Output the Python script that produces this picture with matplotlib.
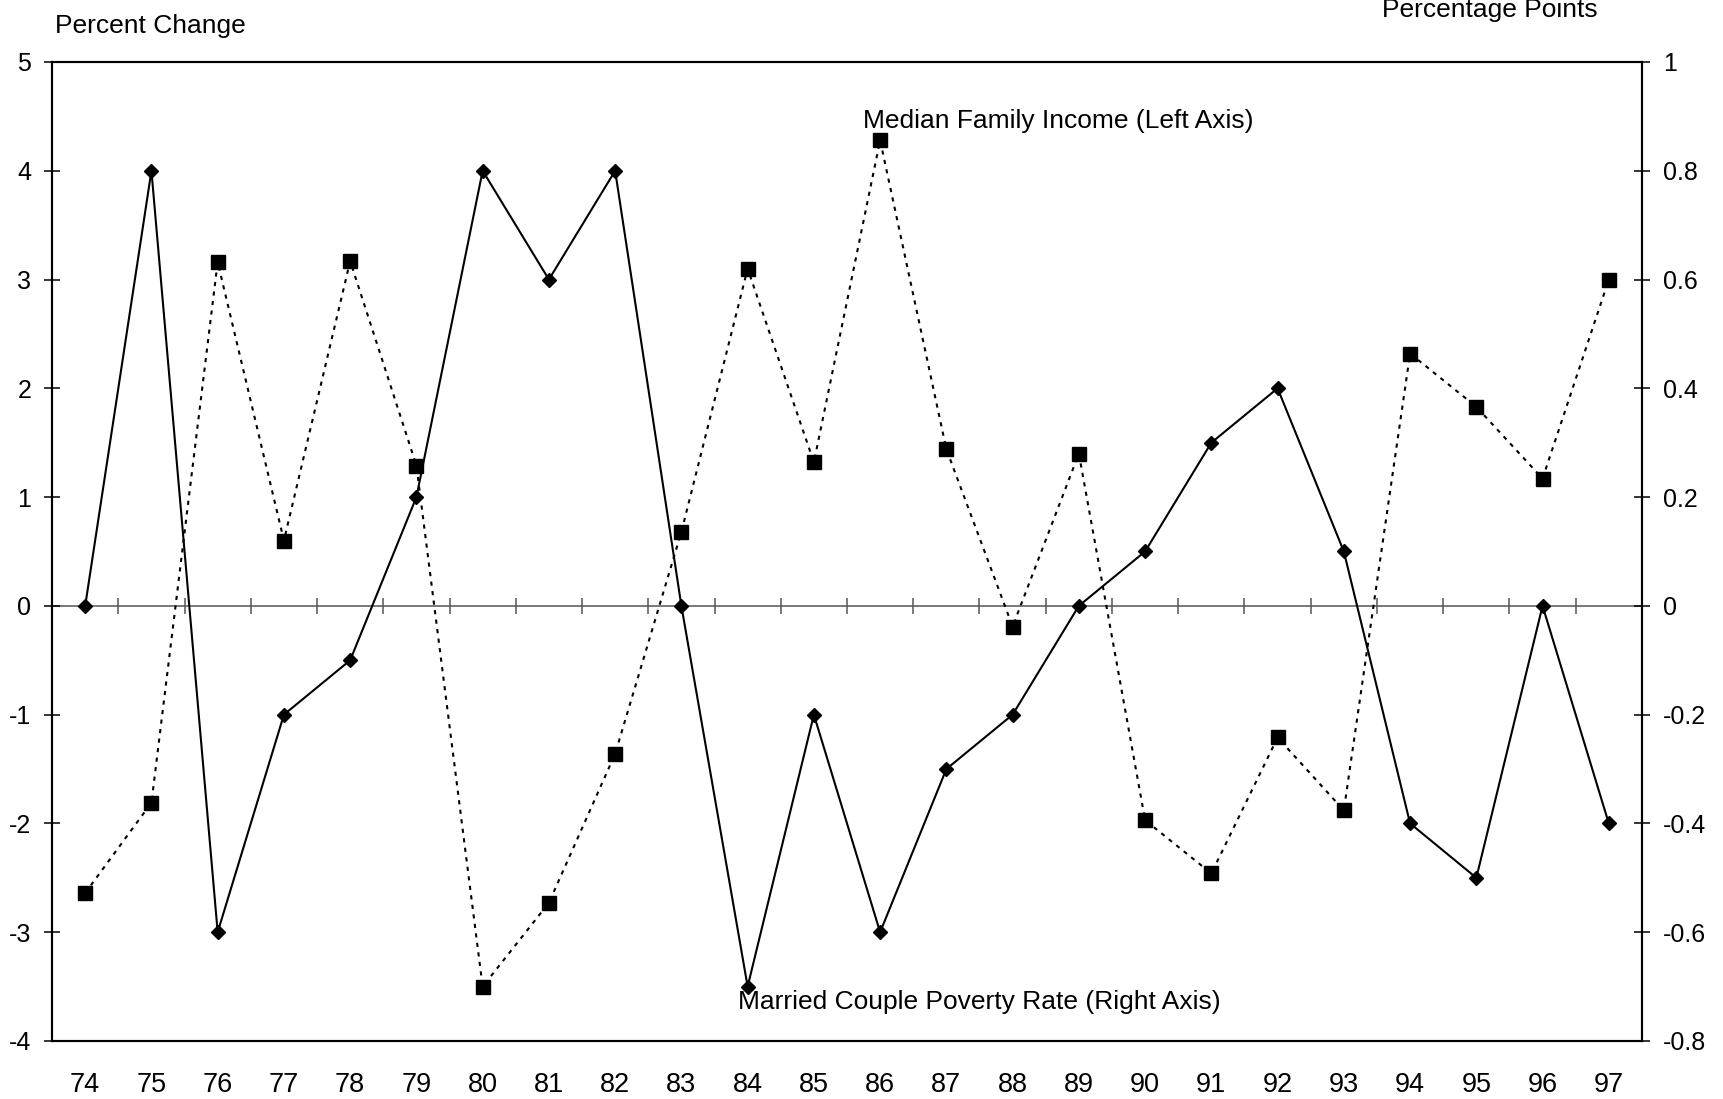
import matplotlib
matplotlib.use("Agg")
import matplotlib.pyplot as plt
from matplotlib.ticker import FuncFormatter
import numpy as np

plt.rcParams["font.family"] = ["Liberation Sans", "DejaVu Sans"]
plt.rcParams["axes.unicode_minus"] = False

# ---- data ----
years = ["74", "75", "76", "77", "78", "79", "80", "81", "82", "83", "84", "85",
         "86", "87", "88", "89", "90", "91", "92", "93", "94", "95", "96", "97"]

# median family income, percent change (left axis)
income_chg = [-2.64, -1.81, 3.16, 0.60, 3.17, 1.29, -3.50, -2.73, -1.36, 0.68, 3.10, 1.32,
              4.28, 1.44, -0.19, 1.40, -1.97, -2.46, -1.21, -1.88, 2.32, 1.83, 1.17, 3.00]

# married couple poverty rate, change in percentage points (right axis)
poverty_chg = [0.0, 0.8, -0.6, -0.2, -0.1, 0.2, 0.8, 0.6, 0.8, 0.0, -0.7, -0.2,
               -0.6, -0.3, -0.2, 0.0, 0.1, 0.3, 0.4, 0.1, -0.4, -0.5, 0.0, -0.4]

left_ticks = [5, 4, 3, 2, 1, 0, -1, -2, -3, -4]
right_ticks = [1, 0.8, 0.6, 0.4, 0.2, 0, -0.2, -0.4, -0.6, -0.8]

x = np.arange(len(years))

fig = plt.figure(figsize=(17.24, 10.99), dpi=100)
ax = fig.add_axes([0.0302, 0.0528, 0.9524 - 0.0302, 0.9436 - 0.0528])
ax2 = ax.twinx()

ax.set_xlim(-0.5, len(years) - 0.5)
ax.set_ylim(-4, 5)
ax2.set_ylim(-0.8, 1)

# zero line with category separators
ax.axhline(0, color="#555555", lw=1.1, zorder=1)
ax.plot(x[1:] - 0.5, np.zeros(len(x) - 1), ls="none", marker="|",
        ms=11.5, mew=1.1, color="#555555", zorder=1)

ax.plot(x, income_chg, color="black", lw=1.5, ls=(0, (2, 2.6)),
        marker="s", ms=10.5, mfc="black", mec="black", zorder=3)
ax2.plot(x, poverty_chg, color="black", lw=1.5, ls="-",
         marker="D", ms=7.6, mfc="black", mec="black", zorder=3)

ax.text(11.74, 4.39, "Median Family Income (Left Axis)", fontsize=19, ha="left", va="baseline")
ax.text(9.86, -3.71, "Married Couple Poverty Rate (Right Axis)", fontsize=19, ha="left", va="baseline")

fig.text(0.0319, 0.970, "Percent Change", fontsize=19, ha="left", va="baseline")
fig.text(0.8016, 0.9845, "Percentage Points", fontsize=19, ha="left", va="baseline")

# axes styling
for a in (ax, ax2):
    for s in a.spines.values():
        s.set_linewidth(1.5)
        s.set_color("black")

ax.set_yticks(left_ticks)
ax.tick_params(axis="y", direction="inout", length=12, width=1.1, labelsize=18, pad=9)
ax.set_xticks(x)
ax.set_xticklabels(years)
ax.tick_params(axis="x", length=0, labelsize=19.5, pad=22)

ax2.set_yticks(right_ticks)
ax2.yaxis.set_major_formatter(FuncFormatter(lambda v, p: f"{v:g}"))
ax2.tick_params(axis="y", direction="inout", length=12, width=1.1, labelsize=18, pad=9)

fig.savefig("out.png", dpi=100)
